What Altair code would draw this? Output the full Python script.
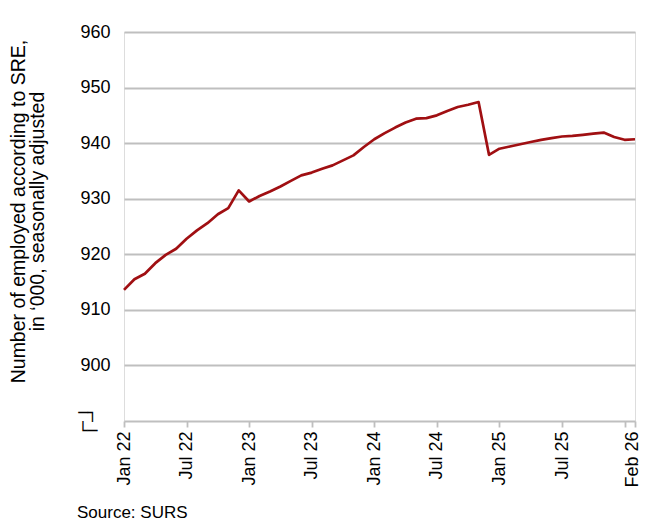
import json
import altair as alt
import pandas as pd

# month index 0 = Jan 2022 ... 49 = Feb 2026
month_index = list(range(50))
employed = [913.6, 915.5, 916.5, 918.4, 919.9, 921.0, 922.8, 924.3, 925.6, 927.2, 928.3, 931.5,
            929.5, 930.5, 931.3, 932.2, 933.2, 934.2, 934.7, 935.4, 936.0, 936.9, 937.8, 939.3,
            940.7, 941.8, 942.8, 943.7, 944.4, 944.5, 945.0, 945.8, 946.5, 946.9, 947.4, 937.9,
            939.0, 939.4, 939.8, 940.2, 940.6, 940.9, 941.2, 941.3, 941.5, 941.7, 941.9, 941.1,
            940.6, 940.7]

tick_pos = [0, 6, 12, 18, 24, 30, 36, 42, 48, 49]
tick_labels = ["Jan 22", "Jul 22", "Jan 23", "Jul 23", "Jan 24", "Jul 24",
               "Jan 25", "Jul 25", "", "Feb 26"]
y_ticks = [890, 900, 910, 920, 930, 940, 950, 960]

df = pd.DataFrame({"m": month_index, "v": employed})

FONT = "Liberation Sans"
GRAY = "#BFBFBF"

x_label_expr = f"{json.dumps(tick_labels)}[indexof({json.dumps(tick_pos)}, datum.value)]"
y_label_expr = "datum.value == 890 ? ['\u2500\u2510\u00a0', '\u00a0\u2514\u2500'] : datum.label"
is_break = "datum.value == 890"
is_last = "datum.value == 49"

chart = alt.Chart(df).mark_line(color="#A00F12", strokeWidth=2.7, strokeJoin="round").encode(
    x=alt.X("m:Q",
            scale=alt.Scale(domain=[0, 49], nice=False, zero=False),
            axis=alt.Axis(values=tick_pos, labelExpr=x_label_expr, title=None,
                          grid=False, domain=False, ticks=True, tickColor=GRAY,
                          tickWidth=1.8, tickSize=6, labelAngle=270, labelAlign="right",
                          labelBaseline="middle", labelPadding=4, labelFont=FONT,
                          labelOffset=alt.condition(is_last, alt.value(-3), alt.value(0)),
                          labelFontSize=18, labelColor="#000000")),
    y=alt.Y("v:Q",
            scale=alt.Scale(domain=[890, 960], nice=False, zero=False),
            axis=alt.Axis(values=y_ticks, labelExpr=y_label_expr,
                          title=["Number of employed according to SRE,",
                                 "in \u2018000, seasonally adjusted"],
                          titleFont=FONT, titleFontSize=19.5, titleFontWeight="normal",
                          titleColor="#000000", titleAngle=270, titleAlign="center",
                          titleBaseline="alphabetic", titleLineHeight=19,
                          titleX=-100, titleY=179,
                          grid=True, gridColor=GRAY, gridWidth=1.8,
                          domain=False, ticks=False,
                          labelFont=alt.condition(is_break, alt.value("DejaVu Sans Mono"), alt.value(FONT)),
                          labelFontSize=alt.condition(is_break, alt.value(16), alt.value(18)),
                          labelPadding=alt.condition(is_break, alt.value(27), alt.value(14)),
                          labelOffset=alt.condition(is_break, alt.value(-9), alt.value(0)),
                          labelColor="#000000")),
).properties(
    width=511,
    height=389,
    title=alt.TitleParams(text="Source: SURS", orient="bottom", anchor="start",
                          frame="group", dx=-47, offset=18, font=FONT, fontSize=17,
                          fontWeight="normal", color="#000000"),
    autosize=alt.AutoSizeParams(type="none"),
    padding={"left": 116, "top": 24, "right": 7, "bottom": 102},
).configure_view(
    stroke=GRAY, strokeWidth=1.8
).configure(background="white")

chart.save("out.html", embed_options={"renderer": "svg", "actions": False})
